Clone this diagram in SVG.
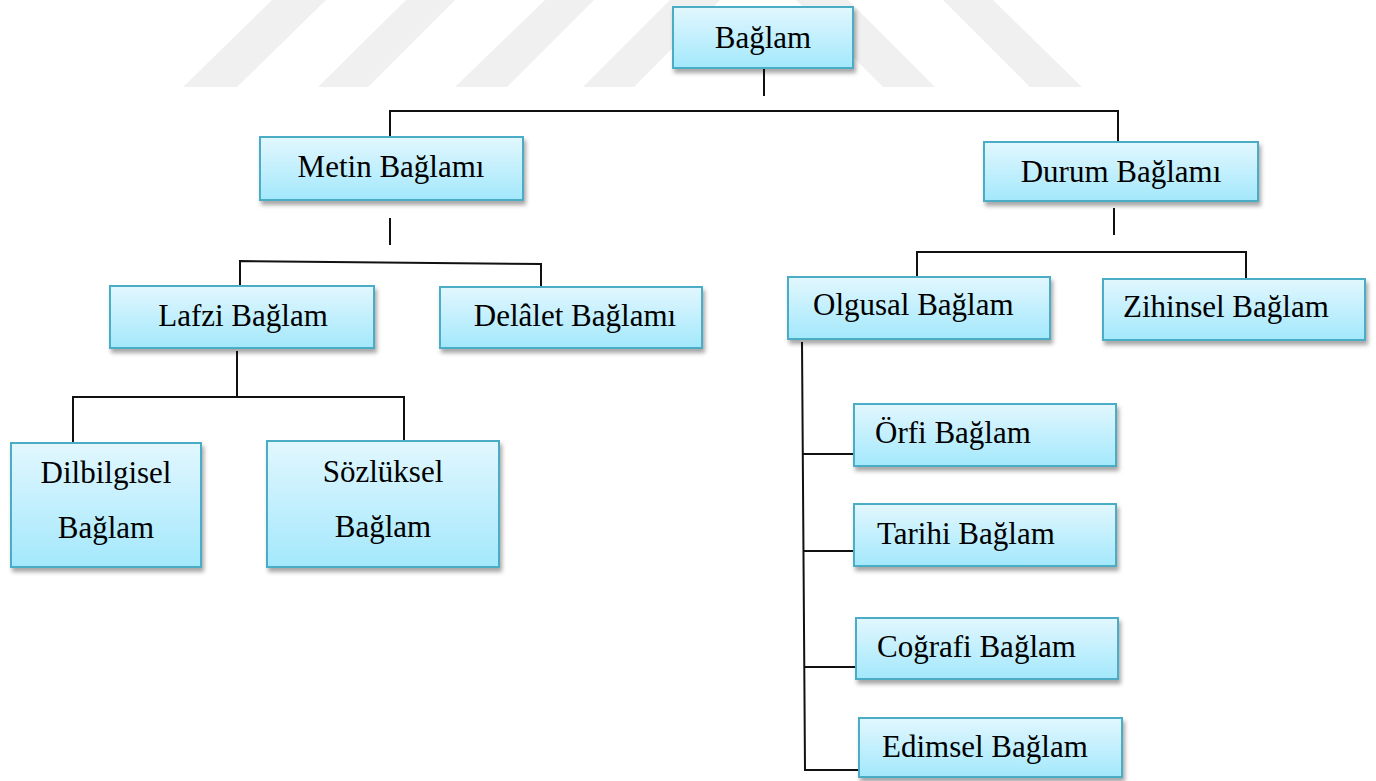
<svg xmlns="http://www.w3.org/2000/svg" width="1376" height="781" viewBox="0 0 1376 781">
<style>
.box{fill:url(#g);stroke:#4bacc6;stroke-width:2;filter:url(#sh)}
.t{font-family:"Liberation Serif","Times New Roman",serif;font-size:31px;fill:#000}
.c{text-anchor:middle}
.ln{fill:none;stroke:#111;stroke-width:2}
.wm{fill:#f0f0f0}
</style>
<defs>
<linearGradient id="g" x1="0" y1="0" x2="0" y2="1">
<stop offset="0" stop-color="#e2f7fe"/>
<stop offset="1" stop-color="#a3e8fc"/>
</linearGradient>
<filter id="sh" x="-10%" y="-20%" width="125%" height="150%">
<feDropShadow dx="2" dy="4" stdDeviation="2" flood-color="#000" flood-opacity="0.35"/>
</filter>
</defs>
<rect width="1376" height="781" fill="#fff"/>
<g id="watermark">
<polygon class="wm" points="183,87 237,87 326,0 272,0"/>
<polygon class="wm" points="318,87 368,87 455,0 406,0"/>
<polygon class="wm" points="455,87 507,87 594,0 545,0"/>
<polygon class="wm" points="583,87 634,87 720,0 670,0"/>
<polygon class="wm" points="883,87 935,87 848,0 796,0"/>
<polygon class="wm" points="1030,87 1082,87 993,0 943,0"/>
</g>
<g id="connectors">
<polyline class="ln" points="764,68 764,96"/>
<polyline class="ln" points="390,138 390,111 1118,111 1118,142"/>
<polyline class="ln" points="390,218 390,245"/>
<polyline class="ln" points="240,288 240,261 541,264 541,287"/>
<polyline class="ln" points="237,351 237,397"/>
<polyline class="ln" points="73,443 73,397 404,397 404,441"/>
<polyline class="ln" points="1114,208 1114,235"/>
<polyline class="ln" points="917,277 917,252 1246,252 1246,279"/>
<polyline class="ln" points="802,342 805,770 858,770"/>
<polyline class="ln" points="803,454 854,454"/>
<polyline class="ln" points="804,551 854,551"/>
<polyline class="ln" points="804,667 856,667"/>
</g>
<g id="baglam"><rect class="box" x="673" y="7" width="180" height="61"/><text class="t c" x="763" y="48">Bağlam</text></g>
<g id="metin"><rect class="box" x="260" y="137" width="263" height="63"/><text class="t c" x="391" y="177">Metin Bağlamı</text></g>
<g id="durum"><rect class="box" x="984" y="142" width="274" height="59"/><text class="t c" x="1121" y="182">Durum Bağlamı</text></g>
<g id="lafzi"><rect class="box" x="110" y="286" width="264" height="62"/><text class="t c" x="243" y="326">Lafzi Bağlam</text></g>
<g id="delalet"><rect class="box" x="440" y="287" width="262" height="61"/><text class="t c" x="575" y="326">Delâlet Bağlamı</text></g>
<g id="dilbilgisel"><rect class="box" x="11" y="443" width="190" height="124"/><text class="t c" x="106" y="483">Dilbilgisel</text><text class="t c" x="106" y="538">Bağlam</text></g>
<g id="sozluksel"><rect class="box" x="267" y="441" width="232" height="126"/><text class="t c" x="383" y="482">Sözlüksel</text><text class="t c" x="383" y="537">Bağlam</text></g>
<g id="olgusal"><rect class="box" x="788" y="277" width="262" height="62"/><text class="t" x="813" y="315">Olgusal Bağlam</text></g>
<g id="zihinsel"><rect class="box" x="1103" y="279" width="262" height="61"/><text class="t" x="1123" y="317">Zihinsel Bağlam</text></g>
<g id="orfi"><rect class="box" x="854" y="404" width="262" height="62"/><text class="t" x="875" y="443">Örfi Bağlam</text></g>
<g id="tarihi"><rect class="box" x="854" y="504" width="262" height="62"/><text class="t" x="877" y="544">Tarihi Bağlam</text></g>
<g id="cografi"><rect class="box" x="856" y="618" width="262" height="61"/><text class="t" x="877" y="657">Coğrafi Bağlam</text></g>
<g id="edimsel"><rect class="box" x="859" y="718" width="263" height="59"/><text class="t" x="882" y="757">Edimsel Bağlam</text></g>
</svg>
